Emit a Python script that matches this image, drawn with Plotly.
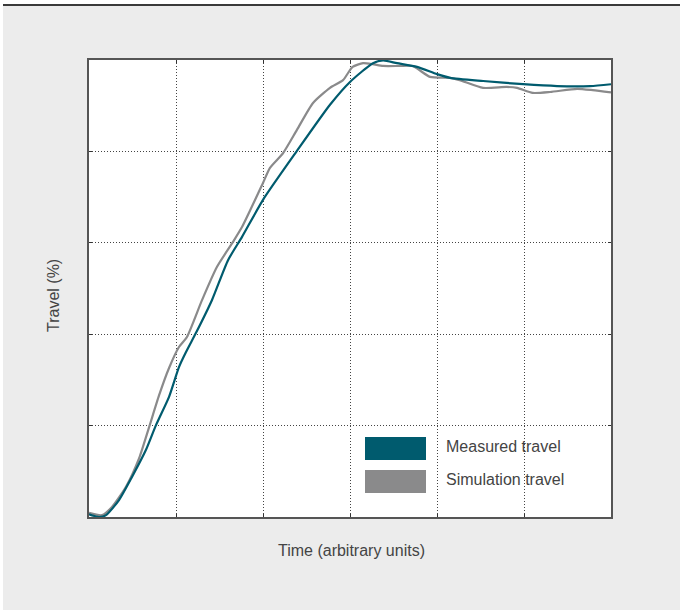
import plotly.graph_objects as go

# Data (x in arbitrary time units 0-6, y in % travel 0-100)
measured_x = [0, 0.115, 0.195, 0.345, 0.494, 0.655, 0.77, 0.92, 1.034, 1.115, 1.23, 1.414,
              1.598, 1.759, 2.0, 2.39, 2.77, 3.0, 3.264, 3.38, 3.54, 3.77, 4.0, 4.15,
              4.53, 4.99, 5.38, 5.76, 6.0]
measured_y = [0.6, 0.0, 0.4, 3.7, 8.75, 14.7, 20.1, 26.3, 32.8, 36.1, 40.3, 47.5,
              56.2, 61.3, 69.4, 80.1, 90.2, 95.2, 99.3, 99.9, 99.3, 98.5, 96.9, 96.1,
              95.4, 94.7, 94.3, 94.3, 94.7]

sim_x = [0, 0.15, 0.264, 0.425, 0.575, 0.69, 0.805, 0.92, 1.034, 1.126, 1.3, 1.47,
         1.655, 1.76, 2.0, 2.08, 2.23, 2.39, 2.575, 2.77, 2.92, 3.03, 3.15, 3.26,
         3.38, 3.57, 3.72, 3.92, 4.15, 4.26, 4.53, 4.8, 4.92, 5.1, 5.3, 5.61, 5.79, 6.0]
sim_y = [0.9, 0.4, 2.2, 6.6, 12.8, 19.6, 26.6, 32.6, 37.2, 39.4, 47.5, 54.7,
         60.2, 63.5, 73.1, 76.4, 79.6, 84.7, 90.6, 93.9, 95.6, 98.5, 99.3, 99.1,
         98.7, 98.7, 98.7, 96.3, 96.1, 95.6, 93.9, 94.1, 93.9, 92.8, 93.0, 93.7, 93.4, 92.9]

series_names = ["Measured travel", "Simulation travel"]
series_colors = ["#005b6e", "#8a8a8b"]

W, H = 680, 610
L, R, T, B = 89, 611, 60, 517  # plot area pixel bounds


def px(x):
    return (x - L) / (R - L)


def py(y):
    return (B - y) / (B - T)


fig = go.Figure()
fig.add_trace(go.Scatter(x=sim_x, y=sim_y, mode="lines", name=series_names[1],
                         line=dict(color=series_colors[1], width=2.2, shape="spline", smoothing=0.6),
                         showlegend=False, hoverinfo="skip"))
fig.add_trace(go.Scatter(x=measured_x, y=measured_y, mode="lines", name=series_names[0],
                         line=dict(color=series_colors[0], width=2.2, shape="spline", smoothing=0.6),
                         showlegend=False, hoverinfo="skip"))

axis_common = dict(showticklabels=False, showgrid=True, griddash="1px,2px", gridcolor="#444",
                   gridwidth=1, zeroline=False, showline=True, linecolor="#555", linewidth=2,
                   mirror="allticks", ticks="inside", ticklen=3, tickcolor="#333")

fig.update_xaxes(range=[0, 6], dtick=1, tick0=0, **axis_common)
fig.update_yaxes(range=[0, 100], dtick=20, tick0=0, **axis_common)

shapes = [
    # white strips at top and left of the page
    dict(type="rect", xref="paper", yref="paper", x0=px(-5), x1=px(W + 5), y0=py(5), y1=py(-5),
         fillcolor="white", line=dict(width=0), layer="below"),
    dict(type="rect", xref="paper", yref="paper", x0=px(-5), x1=px(3), y0=py(H + 5), y1=py(-5),
         fillcolor="white", line=dict(width=0), layer="below"),
    dict(type="line", xref="paper", yref="paper", x0=px(3), x1=px(W + 5), y0=py(5), y1=py(5),
         line=dict(color="#3a3a3a", width=2)),
    # legend swatches
    dict(type="rect", xref="paper", yref="paper", x0=px(365), x1=px(426), y0=py(460), y1=py(437),
         fillcolor=series_colors[0], line=dict(width=0)),
    dict(type="rect", xref="paper", yref="paper", x0=px(365), x1=px(426), y0=py(493), y1=py(470),
         fillcolor=series_colors[1], line=dict(width=0)),
]

font_family = "Liberation Sans, Arial, sans-serif"
annotations = [
    dict(text=series_names[0], xref="paper", yref="paper", x=px(444), y=py(446), xanchor="left",
         yanchor="middle", showarrow=False, font=dict(family=font_family, size=16, color="#444")),
    dict(text=series_names[1], xref="paper", yref="paper", x=px(444), y=py(479), xanchor="left",
         yanchor="middle", showarrow=False, font=dict(family=font_family, size=16, color="#444")),
    dict(text="Time (arbitrary units)", xref="paper", yref="paper", x=px(351), y=py(550),
         xanchor="center", yanchor="middle", showarrow=False,
         font=dict(family=font_family, size=16, color="#444")),
    dict(text="Travel (%)", xref="paper", yref="paper", x=px(53), y=py(296), textangle=-90,
         xanchor="center", yanchor="middle", showarrow=False,
         font=dict(family=font_family, size=16, color="#444")),
]

fig.update_layout(
    width=W, height=H,
    margin=dict(l=L, r=W - R, t=T, b=H - B, pad=0),
    paper_bgcolor="#ececec", plot_bgcolor="white",
    shapes=shapes, annotations=annotations,
    font=dict(family=font_family, color="#444"),
    showlegend=False, hovermode=False,
)

fig.write_html("out.html", config={"displayModeBar": False, "staticPlot": True},
               post_script="document.body.style.margin='0px';")
